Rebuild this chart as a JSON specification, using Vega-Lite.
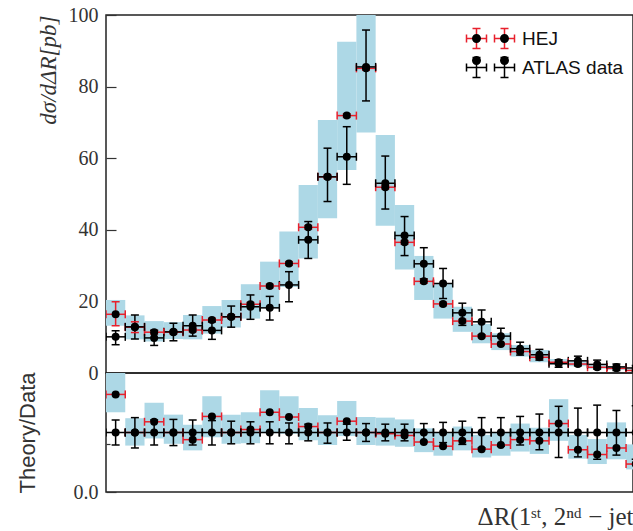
{
  "$schema": "https://vega.github.io/schema/vega-lite/v6.json",
  "background": "white",
  "padding": {"left": 15, "top": 4, "right": 0, "bottom": 0},
  "spacing": 0,
  "bounds": "flush",
  "config": {
    "view": {"stroke": "#222", "strokeWidth": 1.5},
    "axis": {"grid": false, "domain": false, "labelOverlap": false, "labelColor": "#333", "titleColor": "#333", "tickColor": "#333"}
  },
  "datasets": {
    "d": [
      {"i":0,"s":"HEJ","x0":0,"x1":0.25,"xc":0.125,"y":16.4,"lo":13.2,"hi":19.9,"blo":13.2,"bhi":20.4,"r":1.64,"rlo":1.64,"rhi":1.64,"rblo":1.34,"rbhi":2.05},
      {"i":1,"s":"HEJ","x0":0.25,"x1":0.5,"xc":0.375,"y":12.8,"lo":11.3,"hi":14.3,"blo":9.4,"bhi":16.1,"r":1.0,"rlo":1.0,"rhi":1.0,"rblo":0.78,"rbhi":1.24},
      {"i":2,"s":"HEJ","x0":0.5,"x1":0.75,"xc":0.625,"y":11.4,"lo":10.9,"hi":11.9,"blo":8.8,"bhi":14.5,"r":1.18,"rlo":1.18,"rhi":1.18,"rblo":0.9,"rbhi":1.5},
      {"i":3,"s":"HEJ","x0":0.75,"x1":1.0,"xc":0.875,"y":11.4,"lo":10.9,"hi":11.9,"blo":9.5,"bhi":14.2,"r":1.0,"rlo":1.0,"rhi":1.0,"rblo":0.81,"rbhi":1.3},
      {"i":4,"s":"HEJ","x0":1.0,"x1":1.25,"xc":1.125,"y":12.0,"lo":11.5,"hi":12.5,"blo":9.4,"bhi":16.2,"r":0.88,"rlo":0.88,"rhi":0.88,"rblo":0.7,"rbhi":1.13},
      {"i":5,"s":"HEJ","x0":1.25,"x1":1.5,"xc":1.375,"y":14.8,"lo":14.3,"hi":15.3,"blo":11.0,"bhi":18.7,"r":1.27,"rlo":1.27,"rhi":1.27,"rblo":0.92,"rbhi":1.61},
      {"i":6,"s":"HEJ","x0":1.5,"x1":1.75,"xc":1.625,"y":15.7,"lo":15.2,"hi":16.2,"blo":12.7,"bhi":20.4,"r":1.0,"rlo":1.0,"rhi":1.0,"rblo":0.81,"rbhi":1.3},
      {"i":7,"s":"HEJ","x0":1.75,"x1":2.0,"xc":1.875,"y":19.2,"lo":18.7,"hi":19.7,"blo":15.2,"bhi":24.8,"r":1.05,"rlo":1.05,"rhi":1.05,"rblo":0.82,"rbhi":1.34},
      {"i":8,"s":"HEJ","x0":2.0,"x1":2.25,"xc":2.125,"y":24.3,"lo":23.8,"hi":24.8,"blo":18.1,"bhi":31.1,"r":1.34,"rlo":1.34,"rhi":1.34,"rblo":0.99,"rbhi":1.71},
      {"i":9,"s":"HEJ","x0":2.25,"x1":2.5,"xc":2.375,"y":30.6,"lo":30.1,"hi":31.1,"blo":24.0,"bhi":39.5,"r":1.26,"rlo":1.26,"rhi":1.26,"rblo":0.98,"rbhi":1.61},
      {"i":10,"s":"HEJ","x0":2.5,"x1":2.75,"xc":2.625,"y":40.7,"lo":40.2,"hi":41.2,"blo":32.0,"bhi":52.5,"r":1.1,"rlo":1.1,"rhi":1.1,"rblo":0.87,"rbhi":1.41},
      {"i":11,"s":"HEJ","x0":2.75,"x1":3.0,"xc":2.875,"y":54.8,"lo":54.3,"hi":55.3,"blo":43.2,"bhi":70.7,"r":1.0,"rlo":1.0,"rhi":1.0,"rblo":0.79,"rbhi":1.29},
      {"i":12,"s":"HEJ","x0":3.0,"x1":3.25,"xc":3.125,"y":71.9,"lo":71.4,"hi":72.4,"blo":56.7,"bhi":92.5,"r":1.19,"rlo":1.19,"rhi":1.19,"rblo":0.94,"rbhi":1.53},
      {"i":13,"s":"HEJ","x0":3.25,"x1":3.5,"xc":3.375,"y":85.1,"lo":84.6,"hi":85.6,"blo":67.2,"bhi":106,"r":1.0,"rlo":1.0,"rhi":1.0,"rblo":0.79,"rbhi":1.26},
      {"i":14,"s":"HEJ","x0":3.5,"x1":3.75,"xc":3.625,"y":51.9,"lo":51.4,"hi":52.4,"blo":41.1,"bhi":66.5,"r":0.98,"rlo":0.98,"rhi":0.98,"rblo":0.78,"rbhi":1.25},
      {"i":15,"s":"HEJ","x0":3.75,"x1":4.0,"xc":3.875,"y":36.5,"lo":36.0,"hi":37.0,"blo":28.9,"bhi":46.9,"r":0.95,"rlo":0.95,"rhi":0.95,"rblo":0.76,"rbhi":1.22},
      {"i":16,"s":"HEJ","x0":4.0,"x1":4.25,"xc":4.125,"y":25.6,"lo":25.1,"hi":26.1,"blo":20.4,"bhi":32.7,"r":0.84,"rlo":0.84,"rhi":0.84,"rblo":0.67,"rbhi":1.07},
      {"i":17,"s":"HEJ","x0":4.25,"x1":4.5,"xc":4.375,"y":19.3,"lo":18.8,"hi":19.8,"blo":15.2,"bhi":24.9,"r":0.77,"rlo":0.77,"rhi":0.77,"rblo":0.61,"rbhi":0.99},
      {"i":18,"s":"HEJ","x0":4.5,"x1":4.75,"xc":4.625,"y":14.5,"lo":14.0,"hi":15.0,"blo":11.5,"bhi":18.5,"r":0.86,"rlo":0.86,"rhi":0.86,"rblo":0.7,"rbhi":1.1},
      {"i":19,"s":"HEJ","x0":4.75,"x1":5.0,"xc":4.875,"y":10.3,"lo":9.9,"hi":10.7,"blo":8.3,"bhi":13.7,"r":0.72,"rlo":0.72,"rhi":0.72,"rblo":0.58,"rbhi":0.96},
      {"i":20,"s":"HEJ","x0":5.0,"x1":5.25,"xc":5.125,"y":8.1,"lo":7.7,"hi":8.5,"blo":6.4,"bhi":11.1,"r":0.79,"rlo":0.79,"rhi":0.79,"rblo":0.61,"rbhi":1.0},
      {"i":21,"s":"HEJ","x0":5.25,"x1":5.5,"xc":5.375,"y":6.0,"lo":5.7,"hi":6.3,"blo":4.6,"bhi":7.8,"r":0.88,"rlo":0.88,"rhi":0.88,"rblo":0.68,"rbhi":1.15},
      {"i":22,"s":"HEJ","x0":5.5,"x1":5.75,"xc":5.625,"y":4.4,"lo":4.1,"hi":4.7,"blo":3.0,"bhi":6.4,"r":0.86,"rlo":0.86,"rhi":0.86,"rblo":0.64,"rbhi":1.08},
      {"i":23,"s":"HEJ","x0":5.75,"x1":6.0,"xc":5.875,"y":3.0,"lo":2.8,"hi":3.2,"blo":2.3,"bhi":3.9,"r":1.15,"rlo":1.15,"rhi":1.15,"rblo":0.86,"rbhi":1.56},
      {"i":24,"s":"HEJ","x0":6.0,"x1":6.25,"xc":6.125,"y":2.5,"lo":2.3,"hi":2.7,"blo":1.9,"bhi":3.3,"r":0.71,"rlo":0.71,"rhi":0.71,"rblo":0.56,"rbhi":0.96},
      {"i":25,"s":"HEJ","x0":6.25,"x1":6.5,"xc":6.375,"y":1.6,"lo":1.5,"hi":1.7,"blo":1.2,"bhi":2.2,"r":0.63,"rlo":0.63,"rhi":0.63,"rblo":0.47,"rbhi":0.89},
      {"i":26,"s":"HEJ","x0":6.5,"x1":6.75,"xc":6.625,"y":1.3,"lo":1.2,"hi":1.4,"blo":0.9,"bhi":1.9,"r":0.74,"rlo":0.74,"rhi":0.74,"rblo":0.55,"rbhi":1.17},
      {"i":27,"s":"HEJ","x0":6.75,"x1":7.0,"xc":6.875,"y":0.7,"lo":0.6,"hi":0.8,"blo":0.5,"bhi":1.1,"r":0.47,"rlo":0.47,"rhi":0.47,"rblo":0.38,"rbhi":0.8},
      {"i":0,"s":"ATLAS data","x0":0,"x1":0.25,"xc":0.125,"y":10.1,"lo":7.9,"hi":11.8,"r":1,"rlo":0.79,"rhi":1.21},
      {"i":1,"s":"ATLAS data","x0":0.25,"x1":0.5,"xc":0.375,"y":12.9,"lo":9.5,"hi":16.2,"r":1,"rlo":0.74,"rhi":1.25},
      {"i":2,"s":"ATLAS data","x0":0.5,"x1":0.75,"xc":0.625,"y":9.8,"lo":7.7,"hi":11.9,"r":1,"rlo":0.79,"rhi":1.21},
      {"i":3,"s":"ATLAS data","x0":0.75,"x1":1.0,"xc":0.875,"y":11.5,"lo":9.0,"hi":13.9,"r":1,"rlo":0.78,"rhi":1.22},
      {"i":4,"s":"ATLAS data","x0":1.0,"x1":1.25,"xc":1.125,"y":13.2,"lo":10.3,"hi":16.2,"r":1,"rlo":0.79,"rhi":1.21},
      {"i":5,"s":"ATLAS data","x0":1.25,"x1":1.5,"xc":1.375,"y":11.9,"lo":9.4,"hi":14.3,"r":1,"rlo":0.79,"rhi":1.2},
      {"i":6,"s":"ATLAS data","x0":1.5,"x1":1.75,"xc":1.625,"y":15.7,"lo":12.8,"hi":18.7,"r":1,"rlo":0.81,"rhi":1.19},
      {"i":7,"s":"ATLAS data","x0":1.75,"x1":2.0,"xc":1.875,"y":18.5,"lo":15.0,"hi":21.8,"r":1,"rlo":0.81,"rhi":1.18},
      {"i":8,"s":"ATLAS data","x0":2.0,"x1":2.25,"xc":2.125,"y":18.2,"lo":14.8,"hi":21.4,"r":1,"rlo":0.81,"rhi":1.18},
      {"i":9,"s":"ATLAS data","x0":2.25,"x1":2.5,"xc":2.375,"y":24.6,"lo":19.9,"hi":28.3,"r":1,"rlo":0.81,"rhi":1.16},
      {"i":10,"s":"ATLAS data","x0":2.5,"x1":2.75,"xc":2.625,"y":37.2,"lo":32.0,"hi":42.3,"r":1,"rlo":0.86,"rhi":1.14},
      {"i":11,"s":"ATLAS data","x0":2.75,"x1":3.0,"xc":2.875,"y":54.8,"lo":47.9,"hi":62.8,"r":1,"rlo":0.82,"rhi":1.16},
      {"i":12,"s":"ATLAS data","x0":3.0,"x1":3.25,"xc":3.125,"y":60.4,"lo":52.7,"hi":68.8,"r":1,"rlo":0.87,"rhi":1.14},
      {"i":13,"s":"ATLAS data","x0":3.25,"x1":3.5,"xc":3.375,"y":85.5,"lo":76.0,"hi":95.8,"r":1,"rlo":0.85,"rhi":1.15},
      {"i":14,"s":"ATLAS data","x0":3.5,"x1":3.75,"xc":3.625,"y":53.0,"lo":45.8,"hi":60.6,"r":1,"rlo":0.86,"rhi":1.14},
      {"i":15,"s":"ATLAS data","x0":3.75,"x1":4.0,"xc":3.875,"y":38.4,"lo":32.8,"hi":43.7,"r":1,"rlo":0.86,"rhi":1.14},
      {"i":16,"s":"ATLAS data","x0":4.0,"x1":4.25,"xc":4.125,"y":30.5,"lo":26.3,"hi":35.0,"r":1,"rlo":0.85,"rhi":1.15},
      {"i":17,"s":"ATLAS data","x0":4.25,"x1":4.5,"xc":4.375,"y":25.0,"lo":20.8,"hi":29.2,"r":1,"rlo":0.83,"rhi":1.17},
      {"i":18,"s":"ATLAS data","x0":4.5,"x1":4.75,"xc":4.625,"y":16.8,"lo":13.3,"hi":19.5,"r":1,"rlo":0.8,"rhi":1.19},
      {"i":19,"s":"ATLAS data","x0":4.75,"x1":5.0,"xc":4.875,"y":14.3,"lo":10.6,"hi":17.6,"r":1,"rlo":0.74,"rhi":1.25},
      {"i":20,"s":"ATLAS data","x0":5.0,"x1":5.25,"xc":5.125,"y":10.3,"lo":8.1,"hi":12.5,"r":1,"rlo":0.77,"rhi":1.25},
      {"i":21,"s":"ATLAS data","x0":5.25,"x1":5.5,"xc":5.375,"y":6.8,"lo":5.0,"hi":8.6,"r":1,"rlo":0.79,"rhi":1.27},
      {"i":22,"s":"ATLAS data","x0":5.5,"x1":5.75,"xc":5.625,"y":5.1,"lo":3.6,"hi":6.6,"r":1,"rlo":0.71,"rhi":1.31},
      {"i":23,"s":"ATLAS data","x0":5.75,"x1":6.0,"xc":5.875,"y":2.6,"lo":1.6,"hi":3.7,"r":1,"rlo":0.58,"rhi":1.44},
      {"i":24,"s":"ATLAS data","x0":6.0,"x1":6.25,"xc":6.125,"y":3.4,"lo":2.0,"hi":4.7,"r":1,"rlo":0.59,"rhi":1.41},
      {"i":25,"s":"ATLAS data","x0":6.25,"x1":6.5,"xc":6.375,"y":2.4,"lo":1.1,"hi":3.6,"r":1,"rlo":0.55,"rhi":1.46},
      {"i":26,"s":"ATLAS data","x0":6.5,"x1":6.75,"xc":6.625,"y":1.7,"lo":0.7,"hi":2.5,"r":1,"rlo":0.62,"rhi":1.37},
      {"i":27,"s":"ATLAS data","x0":6.75,"x1":7.0,"xc":6.875,"y":1.4,"lo":0.6,"hi":2.1,"r":1,"rlo":0.55,"rhi":1.45}
    ]
  },
  "vconcat": [
    {
      "width": 527,
      "height": 358,
      "data": {"name": "d"},
      "layer": [
        {
          "transform": [{"filter": "datum.s === 'HEJ'"}],
          "mark": {"type": "rect", "color": "#add8e6", "opacity": 1, "clip": true},
          "encoding": {
            "x": {"field": "x0", "type": "quantitative", "scale": {"domain": [0, 6.84], "nice": false, "zero": false}, "axis": null},
            "x2": {"field": "x1"},
            "y": {"field": "blo", "type": "quantitative", "scale": {"domain": [0, 100], "nice": false},
              "axis": {"values": [0, 20, 40, 60, 80, 100], "tickSize": -10, "tickWidth": 1.2, "labelFont": "Liberation Serif", "labelFontSize": 20, "labelPadding": 18,
                "title": "dσ/dΔR[pb]", "titleFont": "Liberation Serif", "titleFontStyle": "italic", "titleFontWeight": "normal", "titleFontSize": 23, "titleAnchor": "end", "titlePadding": 8}},
            "y2": {"field": "bhi"}
          }
        },
        {
          "mark": {"type": "rule", "strokeWidth": 1.5, "clip": true},
          "encoding": {
            "x": {"field": "xc", "type": "quantitative"},
            "y": {"field": "lo", "type": "quantitative"},
            "y2": {"field": "hi"},
            "color": {"field": "s", "type": "nominal", "scale": {"domain": ["HEJ", "ATLAS data"], "range": ["#e8202c", "#000000"]},
              "legend": {"orient": "none", "legendX": 375, "legendY": 14, "title": null, "padding": 0,
                "symbolType": "M-4.8,0H-0.8M-4.8,-0.8V0.8M-0.8,-0.8V0.8M-2.8,-2V2M-3.6,-2H-2M-3.6,2H-2M0.8,0H4.8M0.8,-0.8V0.8M4.8,-0.8V0.8M2.8,-2V2M2,-2H3.6M2,2H3.6",
                "symbolSize": 100, "symbolStrokeWidth": 1.5, "labelFont": "Liberation Sans", "labelFontSize": 19, "labelColor": "#111", "labelOffset": 22, "rowPadding": 2}}
          }
        },
        {
          "mark": {"type": "rule", "strokeWidth": 1.5, "xOffset": -4, "x2Offset": 4, "clip": true},
          "encoding": {"x": {"field": "xc", "type": "quantitative"}, "x2": {"field": "xc"}, "y": {"field": "lo", "type": "quantitative"}, "color": {"field": "s", "type": "nominal", "legend": null}}
        },
        {
          "mark": {"type": "rule", "strokeWidth": 1.5, "xOffset": -4, "x2Offset": 4, "clip": true},
          "encoding": {"x": {"field": "xc", "type": "quantitative"}, "x2": {"field": "xc"}, "y": {"field": "hi", "type": "quantitative"}, "color": {"field": "s", "type": "nominal", "legend": null}}
        },
        {
          "mark": {"type": "rule", "strokeWidth": 1.5, "clip": true},
          "encoding": {"x": {"field": "x0", "type": "quantitative"}, "x2": {"field": "x1"}, "y": {"field": "y", "type": "quantitative"}, "color": {"field": "s", "type": "nominal", "legend": null}}
        },
        {
          "mark": {"type": "rule", "strokeWidth": 1.5, "yOffset": 4, "y2Offset": -4, "clip": true},
          "encoding": {"x": {"field": "x0", "type": "quantitative"}, "y": {"field": "y", "type": "quantitative"}, "y2": {"field": "y"}, "color": {"field": "s", "type": "nominal", "legend": null}}
        },
        {
          "mark": {"type": "rule", "strokeWidth": 1.5, "yOffset": 4, "y2Offset": -4, "clip": true},
          "encoding": {"x": {"field": "x1", "type": "quantitative"}, "y": {"field": "y", "type": "quantitative"}, "y2": {"field": "y"}, "color": {"field": "s", "type": "nominal", "legend": null}}
        },
        {
          "mark": {"type": "circle", "size": 64, "opacity": 1, "clip": true},
          "encoding": {"x": {"field": "xc", "type": "quantitative"}, "y": {"field": "y", "type": "quantitative"},
            "fill": {"field": "s", "type": "nominal", "sort": ["HEJ", "ATLAS data"], "scale": {"range": ["#000000", "#000000"]},
              "legend": {"orient": "none", "legendX": 375, "legendY": 14, "title": null, "padding": 0,
                "symbolType": "M-3.7,0A0.9,0.9 0 1,0 -1.9,0A0.9,0.9 0 1,0 -3.7,0ZM1.9,0A0.9,0.9 0 1,0 3.7,0A0.9,0.9 0 1,0 1.9,0Z",
                "symbolSize": 100, "symbolStrokeWidth": 0, "symbolOpacity": 1, "labelExpr": "' '", "labelFont": "Liberation Sans", "labelFontSize": 19, "labelOffset": 22, "rowPadding": 2}}}
        }
      ]
    },
    {
      "width": 527,
      "height": 119,
      "data": {"name": "d"},
      "layer": [
        {
          "transform": [{"filter": "datum.s === 'HEJ'"}],
          "mark": {"type": "rect", "color": "#add8e6", "opacity": 1, "clip": true},
          "encoding": {
            "x": {"field": "x0", "type": "quantitative", "scale": {"domain": [0, 6.84], "nice": false, "zero": false},
              "axis": {"title": "ΔR(1ˢᵗ, 2ⁿᵈ − jet", "ticks": false, "labels": false, "titleFont": "Liberation Serif", "titleFontWeight": "normal", "titleFontSize": 25, "titleAnchor": "end", "titlePadding": 12}},
            "x2": {"field": "x1"},
            "y": {"field": "rblo", "type": "quantitative", "scale": {"domain": [0, 2], "nice": false},
              "axis": {"values": [0, 0.1, 0.2, 0.3, 0.4, 0.5, 0.6, 0.7, 0.8, 0.9, 1.1, 1.2, 1.3, 1.4, 1.5, 1.6, 1.7, 1.8, 1.9, 1.0],
                "labelExpr": "datum.value == 0 ? '0.0' : (datum.value == 1 ? ['1.5', '1.0', '0.5'] : '')",
                "labelLineHeight": 29.75, "labelBaseline": "middle", "labelOverlap": false, "labelBound": false, "labelFlush": false,
                "tickSize": {"condition": {"test": "(datum.value * 2) % 1 == 0", "value": -10}, "value": -4},
                "tickWidth": 1.2, "labelFont": "Liberation Serif", "labelFontSize": 20, "labelPadding": 18,
                "title": "Theory/Data", "titleFont": "Liberation Sans", "titleFontWeight": "normal", "titleFontSize": 22, "titlePadding": 34}},
            "y2": {"field": "rbhi"}
          }
        },
        {
          "transform": [{"filter": "datum.s === 'ATLAS data'"}],
          "mark": {"type": "rule", "strokeWidth": 1.5, "color": "#000000", "clip": true},
          "encoding": {"x": {"field": "xc", "type": "quantitative"}, "y": {"field": "rlo", "type": "quantitative"}, "y2": {"field": "rhi"}}
        },
        {
          "transform": [{"filter": "datum.s === 'ATLAS data'"}],
          "mark": {"type": "rule", "strokeWidth": 1.5, "color": "#000000", "xOffset": -4, "x2Offset": 4, "clip": true},
          "encoding": {"x": {"field": "xc", "type": "quantitative"}, "x2": {"field": "xc"}, "y": {"field": "rlo", "type": "quantitative"}}
        },
        {
          "transform": [{"filter": "datum.s === 'ATLAS data'"}],
          "mark": {"type": "rule", "strokeWidth": 1.5, "color": "#000000", "xOffset": -4, "x2Offset": 4, "clip": true},
          "encoding": {"x": {"field": "xc", "type": "quantitative"}, "x2": {"field": "xc"}, "y": {"field": "rhi", "type": "quantitative"}}
        },
        {
          "mark": {"type": "rule", "strokeWidth": 1.5, "clip": true},
          "encoding": {"x": {"field": "x0", "type": "quantitative"}, "x2": {"field": "x1"}, "y": {"field": "r", "type": "quantitative"},
            "color": {"field": "s", "type": "nominal", "scale": {"domain": ["HEJ", "ATLAS data"], "range": ["#e8202c", "#000000"]}, "legend": null}}
        },
        {
          "mark": {"type": "rule", "strokeWidth": 1.5, "yOffset": 4, "y2Offset": -4, "clip": true},
          "encoding": {"x": {"field": "x0", "type": "quantitative"}, "y": {"field": "r", "type": "quantitative"}, "y2": {"field": "r"}, "color": {"field": "s", "type": "nominal", "legend": null}}
        },
        {
          "mark": {"type": "rule", "strokeWidth": 1.5, "yOffset": 4, "y2Offset": -4, "clip": true},
          "encoding": {"x": {"field": "x1", "type": "quantitative"}, "y": {"field": "r", "type": "quantitative"}, "y2": {"field": "r"}, "color": {"field": "s", "type": "nominal", "legend": null}}
        },
        {
          "mark": {"type": "circle", "size": 64, "color": "#000000", "opacity": 1, "clip": true},
          "encoding": {"x": {"field": "xc", "type": "quantitative"}, "y": {"field": "r", "type": "quantitative"}}
        }
      ]
    }
  ]
}
